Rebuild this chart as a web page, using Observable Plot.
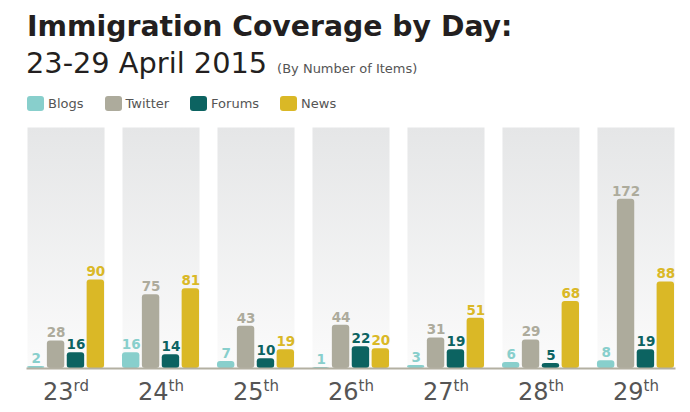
<!DOCTYPE html>
<html>
<head>
<meta charset="utf-8">
<script src="https://cdn.jsdelivr.net/npm/d3@7"></script>
<script src="https://cdn.jsdelivr.net/npm/@observablehq/plot@0.6"></script>
<style>
  html, body { margin: 0; padding: 0; background: #fff; }
  #wrap { position: relative; width: 690px; height: 412px; font-family: "DejaVu Sans", Verdana, sans-serif; overflow: hidden; }
  #title { position: absolute; left: 27px; top: 13px; font-size: 28.3px; line-height: 28px; font-weight: bold; color: #231f20; white-space: nowrap; }
  #subtitle { position: absolute; left: 26px; top: 49px; font-size: 28.8px; line-height: 28px; color: #231f20; white-space: nowrap; }
  #subtitle span { font-size: 13px; color: #555; margin-left: 10px; }
  #legend { position: absolute; left: 27px; top: 96px; display: flex; align-items: center; font-size: 13px; color: #555; }
  .item { display: flex; align-items: center; margin-right: 21px; }
  .sw { width: 17px; height: 15px; border-radius: 3px; margin-right: 4px; }
  #chart { position: absolute; left: 0; top: 112px; }
</style>
</head>
<body>
<div id="wrap">
  <div id="title">Immigration Coverage by Day:</div>
  <div id="subtitle">23-29 April 2015<span>(By Number of Items)</span></div>
  <div id="legend"></div>
  <div id="chart"></div>
</div>
<script>
const days = ["23", "24", "25", "26", "27", "28", "29"];
const suffixes = ["rd", "th", "th", "th", "th", "th", "th"];
const series = ["Blogs", "Twitter", "Forums", "News"];
const colors = ["#88cfcc", "#adab9c", "#0c6361", "#dab826"];
const blogs = [2, 16, 7, 1, 3, 6, 8];
const twitter = [28, 75, 43, 44, 31, 29, 172];
const forums = [16, 14, 10, 22, 19, 5, 19];
const news = [90, 81, 19, 20, 51, 68, 88];

const valuesBySeries = [blogs, twitter, forums, news];
const data = [];
days.forEach((d, i) => {
  series.forEach((s, j) => {
    data.push({day: d, series: s, value: valuesBySeries[j][i]});
  });
});

// legend
const legend = document.getElementById("legend");
series.forEach((s, j) => {
  const it = document.createElement("div");
  it.className = "item";
  it.innerHTML = `<div class="sw" style="background:${colors[j]}"></div><div>${s}</div>`;
  legend.appendChild(it);
});

const chart = Plot.plot({
  width: 690,
  height: 300,
  marginTop: 15,
  marginBottom: 44,
  marginLeft: 27,
  marginRight: 16,
  style: {fontFamily: "'DejaVu Sans', Verdana, sans-serif", background: "transparent"},
  fx: {domain: days, paddingInner: 0.189, paddingOuter: 0, round: false, label: null, tickSize: 0, tickPadding: 14, fontSize: 24},
  x: {domain: series, paddingInner: 0.125, paddingOuter: 0, round: false, axis: null},
  y: {domain: [0, 245], axis: null},
  color: {domain: series, range: colors},
  marks: [
    Plot.frame({fill: "url(#panelGrad)", stroke: null}),
    Plot.barY(data, {fx: "day", x: "series", y: "value", fill: "series", rx: 3}),
    Plot.frame({anchor: "bottom", facet: "super", stroke: "#b3b0a2", strokeWidth: 2}),
    Plot.text(data, {fx: "day", x: "series", y: "value", text: "value", fill: "series", dy: -8, fontWeight: "bold", fontSize: 13.5})
  ]
});

// gradient definition
const svg = d3.select(chart);
const defs = svg.insert("defs", ":first-child");
const g = defs.append("linearGradient").attr("id", "panelGrad").attr("x1", 0).attr("y1", 0).attr("x2", 0).attr("y2", 1);
g.append("stop").attr("offset", "0%").attr("stop-color", "#e5e6e7");
g.append("stop").attr("offset", "100%").attr("stop-color", "#fbfbfb");

// fx tick labels with superscript suffixes
svg.selectAll("g[aria-label='fx-axis tick label'] text").each(function() {
  const t = d3.select(this);
  const label = t.text();
  const idx = days.indexOf(label);
  t.attr("fill", "#555").style("font-size", "24px");
  if (idx >= 0) {
    t.append("tspan").attr("font-size", "15px").attr("dy", "-0.6em").text(suffixes[idx]);
  }
});

document.getElementById("chart").appendChild(chart);
</script>
</body>
</html>
